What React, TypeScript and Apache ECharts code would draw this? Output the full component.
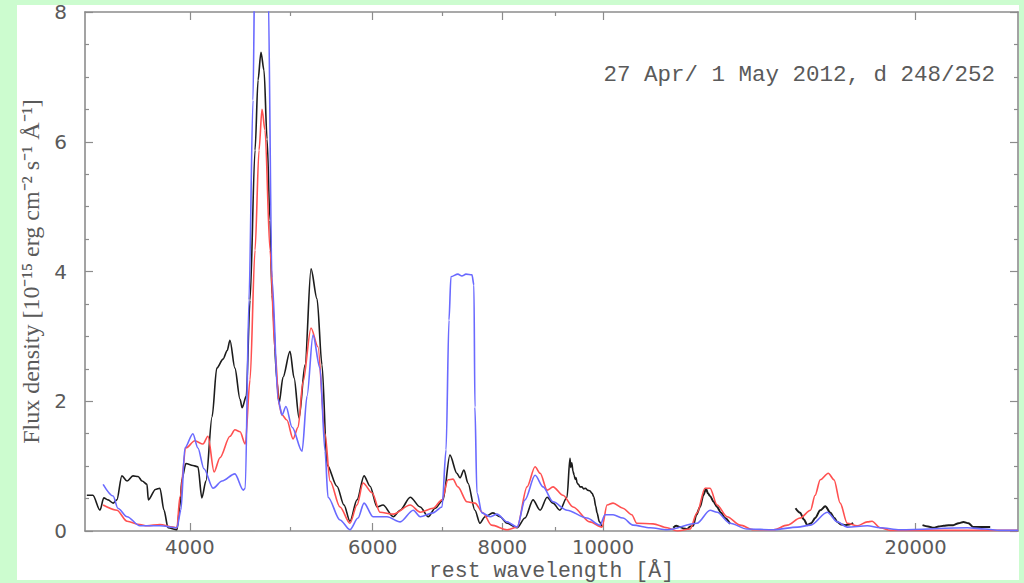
import { useEffect, useRef } from "react";
import * as echarts from "echarts";

// Wavelength axis (rest frame, Å), logarithmic
const waveMin = 3170;
const waveMax = 25100;
const xMajorTicks = [4000, 6000, 8000, 10000, 20000];
const xMinorTicks = [5000, 7000, 9000];

// Flux axis (10^-15 erg cm^-2 s^-1 Å^-1)
const fluxMin = 0;
const fluxMax = 8;
const fluxStep = 2;

const epochLabel = "27 Apr/ 1 May 2012, d 248/252";

// Observed spectrum, split into the optical, J, H and K windows: [Å, flux]
const observedOptical: [number, number][] = [
  [3183, 0.55], [3226, 0.55], [3277, 0.32], [3305, 0.51], [3336, 0.48], [3374, 0.43],
  [3402, 0.48], [3440, 0.85], [3480, 0.77], [3526, 0.85], [3566, 0.84], [3598, 0.77],
  [3637, 0.72], [3648, 0.48], [3706, 0.64], [3743, 0.66], [3777, 0.32], [3811, 0.05],
  [3887, 0.02], [3912, 0.37], [3930, 0.8], [3965, 1.04], [4027, 1.01], [4072, 0.99],
  [4108, 0.51], [4145, 0.77], [4202, 1.76], [4246, 2.51], [4306, 2.65], [4345, 2.78],
  [4372, 2.94], [4420, 2.51], [4471, 2.03], [4492, 1.9], [4533, 2.08], [4571, 3.56],
  [4622, 5.87], [4653, 6.95], [4683, 7.38], [4715, 7.1], [4747, 6.04], [4778, 4.79],
  [4799, 3.64], [4853, 2.3], [4875, 1.97], [4918, 2.37], [4995, 2.77], [5040, 2.36],
  [5096, 1.74], [5164, 2.56], [5233, 4.04], [5303, 3.58], [5362, 2.56], [5422, 1.02],
  [5543, 0.69], [5630, 0.4], [5705, 0.15], [5795, 0.48], [5886, 0.85], [5965, 0.69],
  [6058, 0.37], [6139, 0.4], [6280, 0.22], [6377, 0.32], [6521, 0.52], [6667, 0.37],
  [6787, 0.22], [6890, 0.35], [7013, 0.48], [7121, 1.17], [7232, 0.89], [7281, 0.82],
  [7346, 0.94], [7411, 0.74], [7527, 0.32], [7611, 0.12], [7697, 0.22], [7834, 0.28],
  [7958, 0.22], [8083, 0.12], [8265, 0.05], [8411, 0.2], [8562, 0.48], [8698, 0.32],
  [8834, 0.52], [8950, 0.43], [9088, 0.32], [9232, 0.52], [9293, 1.12], [9310, 0.98],
  [9330, 1.05], [9356, 0.92], [9380, 0.86], [9400, 0.8], [9420, 0.82], [9440, 0.74],
  [9470, 0.72], [9500, 0.68], [9541, 0.68], [9580, 0.65], [9620, 0.66], [9660, 0.63],
  [9712, 0.62], [9760, 0.58], [9800, 0.52], [9840, 0.38], [9868, 0.28], [9920, 0.14],
  [9978, 0.06],
];
const observedJ: [number, number][] = [
  [11685, 0.05], [11760, 0.08], [11865, 0.06], [11950, 0.04], [12050, 0.03], [12130, 0.07],
  [12210, 0.08], [12300, 0.25], [12400, 0.37], [12490, 0.55], [12566, 0.65], [12620, 0.58],
  [12679, 0.54], [12780, 0.45], [12878, 0.37], [12990, 0.28], [13108, 0.2], [13254, 0.11],
];
const observedH: [number, number][] = [
  [15325, 0.35], [15483, 0.28], [15610, 0.18], [15733, 0.09], [15870, 0.12], [16005, 0.2],
  [16190, 0.32], [16370, 0.38], [16560, 0.28], [16700, 0.2], [16816, 0.14], [16960, 0.1],
  [17109, 0.09], [17260, 0.1], [17416, 0.12],
];
const observedK: [number, number][] = [
  [20310, 0.09], [20560, 0.07], [20820, 0.05], [21050, 0.07], [21290, 0.08], [21520, 0.09],
  [21740, 0.09], [22000, 0.12], [22240, 0.14], [22490, 0.12], [22730, 0.06], [22950, 0.06],
  [23180, 0.06], [23400, 0.06], [23600, 0.06],
];

// Model spectrum (red)
const modelRed: [number, number][] = [
  [3300, 0.4], [3402, 0.32], [3480, 0.15], [3580, 0.1], [3637, 0.08], [3743, 0.1],
  [3853, 0.06], [3887, 0.05], [3912, 0.52], [3965, 1.28], [4045, 1.39], [4118, 1.34],
  [4164, 1.46], [4221, 0.91], [4276, 1.13], [4372, 1.46], [4420, 1.56], [4471, 1.53],
  [4523, 1.34], [4571, 2.33], [4622, 4.33], [4663, 5.87], [4694, 6.5], [4725, 6.18],
  [4778, 4.33], [4831, 2.79], [4875, 1.94], [4907, 1.79], [4960, 1.71], [5029, 1.42],
  [5085, 1.6], [5141, 2.3], [5233, 3.13], [5314, 2.84], [5398, 1.5], [5458, 0.77],
  [5580, 0.37], [5705, 0.12], [5795, 0.4], [5873, 0.74], [5992, 0.59], [6098, 0.29],
  [6280, 0.26], [6521, 0.4], [6667, 0.29], [6860, 0.35], [6997, 0.48], [7091, 0.79],
  [7169, 0.8], [7248, 0.68], [7395, 0.45], [7527, 0.43], [7662, 0.28], [7808, 0.09],
  [8083, 0.02], [8265, 0.06], [8449, 0.68], [8601, 0.99], [8698, 0.89], [8834, 0.63],
  [8950, 0.68], [9150, 0.55], [9356, 0.37], [9712, 0.14], [9978, 0.06], [10090, 0.4],
  [10225, 0.43], [10452, 0.35], [10658, 0.25], [10776, 0.12], [11173, 0.11], [11528, 0.05],
  [11790, 0.0], [12129, 0.03], [12318, 0.28], [12538, 0.66], [12679, 0.66], [12878, 0.4],
  [13166, 0.22], [13552, 0.09], [13962, 0.02], [14600, 0.02], [15048, 0.09], [15483, 0.2],
  [15843, 0.32], [16005, 0.55], [16190, 0.79], [16480, 0.89], [16690, 0.79], [16921, 0.43],
  [17185, 0.12], [17570, 0.08], [17970, 0.14], [18160, 0.15], [18486, 0.05], [18904, 0.01],
  [21600, 0.01], [24130, 0.01], [25100, 0.01],
];

// Model spectrum (blue); its H-alpha/H-beta peak runs past the top of the frame
const modelBlue: [number, number][] = [
  [3300, 0.72], [3374, 0.54], [3410, 0.35], [3480, 0.22], [3580, 0.08], [3743, 0.08],
  [3887, 0.05], [3921, 0.32], [3956, 1.28], [4027, 1.5], [4072, 1.28], [4127, 0.96],
  [4211, 0.66], [4296, 0.77], [4420, 0.88], [4503, 0.63], [4523, 0.66], [4560, 3.56],
  [4601, 6.64], [4622, 9.0], [4673, 10.5], [4725, 10.0], [4757, 8.5], [4799, 3.9],
  [4864, 2.03], [4907, 1.79], [4950, 1.92], [5018, 1.6], [5130, 1.23], [5187, 2.08],
  [5256, 3.02], [5338, 2.51], [5398, 1.23], [5434, 0.52], [5580, 0.17], [5705, 0.02],
  [5808, 0.2], [5886, 0.43], [6004, 0.22], [6194, 0.22], [6377, 0.14], [6565, 0.32],
  [6667, 0.22], [6860, 0.28], [6997, 0.37], [7060, 1.25], [7106, 3.25], [7137, 3.92],
  [7248, 3.96], [7313, 3.93], [7379, 3.96], [7477, 3.95], [7510, 3.79], [7527, 1.91],
  [7560, 0.59], [7645, 0.28], [7782, 0.22], [7904, 0.26], [8083, 0.14], [8265, 0.06],
  [8411, 0.48], [8601, 0.86], [8756, 0.68], [8950, 0.45], [9232, 0.32], [9650, 0.2],
  [9934, 0.09], [10045, 0.25], [10225, 0.25], [10452, 0.2], [10688, 0.09], [11100, 0.05],
  [11528, 0.02], [12318, 0.12], [12679, 0.32], [12878, 0.29], [13254, 0.12], [13760, 0.03],
  [14600, 0.02], [15395, 0.06], [15843, 0.09], [16443, 0.29], [16816, 0.14], [17185, 0.06],
  [17970, 0.08], [18486, 0.05], [19320, 0.02], [22440, 0.05], [23330, 0.03], [24130, 0.01],
  [25100, 0.01],
];

const frameColor = "#8c8c8c";
const labelColor = "#5a5a5a";

export default function App() {
  const ref = useRef<HTMLDivElement>(null);

  useEffect(() => {
    if (!ref.current) return;
    const chart = echarts.init(ref.current, undefined, { renderer: "svg" });

    const tickStyle = { color: frameColor, width: 1.2 };
    const axisLineStyle = { color: frameColor, width: 1.6 };

    const logAxis = (extra: any) => ({
      type: "log",
      logBase: 10,
      min: waveMin,
      max: waveMax,
      gridIndex: 0,
      splitLine: { show: false },
      ...extra,
    });

    const fluxAxis = (extra: any) => ({
      type: "value",
      min: fluxMin,
      max: fluxMax,
      interval: fluxStep,
      axisLine: { show: true, lineStyle: axisLineStyle },
      axisTick: { show: true, inside: true, length: 8, lineStyle: tickStyle },
      minorTick: { show: true, splitNumber: 4, length: 4, lineStyle: tickStyle },
      splitLine: { show: false },
      minorSplitLine: { show: false },
      ...extra,
    });

    const line = (data: [number, number][], color: string, width = 1.6) => ({
      type: "line",
      data,
      xAxisIndex: 0,
      yAxisIndex: 0,
      showSymbol: false,
      symbol: "none",
      smooth: 0.3,
      smoothMonotone: "x",
      clip: true,
      lineStyle: { color, width },
      silent: true,
    });

    chart.setOption({
      animation: false,
      title: {
        text: epochLabel,
        right: 24,
        top: 58,
        textStyle: {
          fontFamily: "Liberation Mono",
          fontSize: 22.5,
          fontWeight: "normal",
          color: labelColor,
        },
      },
      grid: { left: 85, right: 6, top: 12, bottom: 52, outerBoundsMode: "none" },
      xAxis: [
        logAxis({
          position: "bottom",
          axisLine: { show: true, lineStyle: axisLineStyle },
          axisTick: { show: true, inside: true, length: 8, customValues: xMajorTicks, lineStyle: tickStyle },
          axisLabel: {
            customValues: xMajorTicks,
            margin: 9,
            lineHeight: 14,
            color: labelColor,
            fontFamily: "DejaVu Sans",
            fontSize: 19.5,
            formatter: (v: number) => String(Math.round(v)),
          },
          name: "rest wavelength [Å]",
          nameLocation: "middle",
          nameGap: 32,
          nameMoveOverlap: false,
          nameTextStyle: {
            fontFamily: "Liberation Mono",
            fontSize: 21.5,
            lineHeight: 16,
            color: labelColor,
          },
        }),
        logAxis({
          position: "bottom",
          axisLine: { show: false },
          axisTick: { show: true, inside: true, length: 4, customValues: xMinorTicks, lineStyle: tickStyle },
          axisLabel: { show: false },
        }),
        logAxis({
          position: "top",
          axisLine: { show: true, lineStyle: axisLineStyle },
          axisTick: { show: true, inside: true, length: 8, customValues: xMajorTicks, lineStyle: tickStyle },
          axisLabel: { show: false },
        }),
        logAxis({
          position: "top",
          axisLine: { show: false },
          axisTick: { show: true, inside: true, length: 4, customValues: xMinorTicks, lineStyle: tickStyle },
          axisLabel: { show: false },
        }),
      ],
      yAxis: [
        fluxAxis({
          position: "left",
          axisLabel: {
            margin: 18,
            color: labelColor,
            fontFamily: "DejaVu Sans",
            fontSize: 20,
          },
          name: "Flux density [10⁻¹⁵ erg cm⁻² s⁻¹ Å⁻¹]",
          nameLocation: "middle",
          nameGap: 42,
          nameMoveOverlap: false,
          nameTextStyle: { fontFamily: "Liberation Serif", fontSize: 24, color: labelColor },
        }),
        fluxAxis({
          position: "right",
          axisLabel: { show: false },
        }),
      ],
      series: [
        line(observedOptical, "#1c1c1c"),
        line(observedJ, "#1c1c1c", 2),
        line(observedH, "#1c1c1c", 2),
        line(observedK, "#1c1c1c", 2),
        line(modelRed, "#ff5050"),
        line(modelBlue, "#6a6aff"),
      ],
    });

    return () => chart.dispose();
  }, []);

  return (
    <div
      style={{
        position: "fixed",
        left: 0,
        top: 0,
        width: 1024,
        height: 583,
        background: "#ccfccf",
      }}
    >
      <div
        style={{
          position: "absolute",
          left: 17,
          top: 5,
          width: 1002,
          height: 575,
          background: "#ffffff",
        }}
      />
      <div
        ref={ref}
        style={{ position: "absolute", left: 0, top: 0, width: 1024, height: 583 }}
      />
    </div>
  );
}
